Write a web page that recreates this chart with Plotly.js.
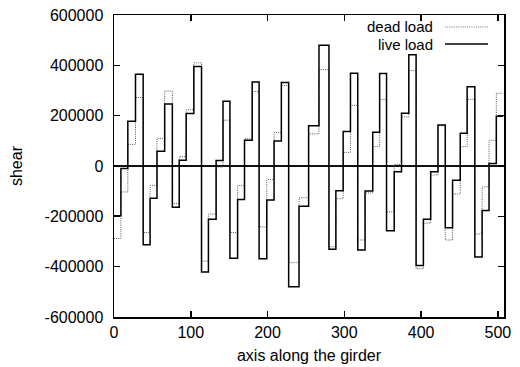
<!DOCTYPE html>
<html>
<head>
<meta charset="utf-8">
<script src="https://cdn.plot.ly/plotly-3.0.1.min.js"></script>
<style>html,body{margin:0;padding:0;background:#fff;}#chart{width:520px;height:367px;}</style>
</head>
<body>
<div id="chart"></div>
<script>
// step boundaries along the girder
const xEdges = [0, 9, 18, 28, 38, 47, 56, 66, 76, 85,
  94, 104, 114, 123, 133, 142, 151, 161, 170, 180,
  189, 199, 208.5, 218, 227.5, 241, 253.5, 267, 280, 289,
  298.5, 308, 317.5, 327, 337, 346, 355, 365, 374.5, 384,
  393.5, 403, 412.5, 422, 431.5, 441, 451, 460, 470, 479.5,
  488.5, 498, 507];

const deadLoad = [-288000, -103000, 86000, 272000, -264000, -77000, 110000, 298000, -149000, 37000,
  224000, 410000, -378000, -191000, -4000, 182000, -264000, -78000, 108000, 296000,
  -242000, -54000, 133000, 320000, -384000, -126000, 128000, 383000, -321000, -130000,
  54000, 241000, -294000, -107000, 77000, 264000, -182000, 6000, 195000, 379000,
  -408000, -227000, -36000, 160000, -294000, -111000, 77000, 265000, -270000, -83000,
  102000, 289000];

const liveLoad = [-198000, -10000, 178000, 365000, -313000, -128000, 59000, 246000, -164000, 23000,
  209000, 395000, -421000, -212000, 22000, 257000, -367000, -133000, 102000, 334000,
  -369000, -135000, 99000, 332000, -480000, -160000, 160000, 480000, -331000, -98000,
  137000, 369000, -334000, -99000, 134000, 368000, -257000, -23000, 210000, 442000,
  -395000, -212000, -23000, 163000, -245000, -57000, 130000, 315000, -362000, -177000,
  10000, 198000];

const seriesNames = ["dead load", "live load"];
const yTickVals = [-600000, -400000, -200000, 0, 200000, 400000, 600000];
const yTickText = ["-600000", "-400000", "-200000", "0", "200000", "400000", "600000"];
const xTickVals = [0, 100, 200, 300, 400, 500];
const xTickText = ["0", "100", "200", "300", "400", "500"];

const FONT = "Liberation Sans, Arial, Helvetica, sans-serif";
const ML = 114, MR = 16, MT = 15, MB = 50;
const PW = 520 - ML - MR, PH = 367 - MT - MB;
const px2x = p => (p - ML) / PW;
const px2y = p => (367 - MB - p) / PH;

function stepY(arr) { return arr.concat([arr[arr.length - 1]]); }

const DEAD_DASH = "1px,1.2px";
const traces = [
  {x: xEdges, y: stepY(deadLoad), type: "scatter", mode: "lines", name: seriesNames[0],
   line: {shape: "hv", color: "#555", width: 1, dash: DEAD_DASH}, hoverinfo: "skip"},
  {x: xEdges, y: stepY(liveLoad), type: "scatter", mode: "lines", name: seriesNames[1],
   line: {shape: "hv", color: "#000", width: 1.5}, hoverinfo: "skip"}
];

const legendRows = [{py: 27, dash: DEAD_DASH, color: "#777", width: 1}, {py: 44, dash: "solid", color: "#000", width: 1.5}];
const annotations = legendRows.map((r, i) => ({
  xref: "paper", yref: "paper", x: px2x(434), y: px2y(r.py), xanchor: "right", yanchor: "middle",
  text: seriesNames[i], showarrow: false, borderpad: 0,
  font: {family: FONT, size: 15, color: "#000"}
}));
const shapes = legendRows.map(r => ({
  type: "line", xref: "paper", yref: "paper", x0: px2x(445), x1: px2x(488), y0: px2y(r.py), y1: px2y(r.py),
  line: {color: r.color, width: r.width, dash: r.dash}
}));

const axisCommon = {
  showgrid: false, showline: true, linecolor: "#000", linewidth: 1.5, mirror: "ticks",
  ticks: "inside", ticklen: 6, tickwidth: 1.5, tickcolor: "#000",
  tickfont: {family: FONT, size: 16, color: "#000"}, automargin: false, fixedrange: true
};

const layout = {
  width: 520, height: 367,
  margin: {l: ML, r: MR, t: MT, b: MB},
  paper_bgcolor: "#fff", plot_bgcolor: "#fff",
  showlegend: false,
  font: {family: FONT, size: 16, color: "#000"},
  xaxis: Object.assign({}, axisCommon, {
    range: [0, 508], tickvals: xTickVals, ticktext: xTickText, zeroline: false,
    title: {text: "axis along the girder", font: {family: FONT, size: 16, color: "#000"}, standoff: 10}
  }),
  yaxis: Object.assign({}, axisCommon, {
    range: [-600000, 600000], tickvals: yTickVals, ticktext: yTickText,
    zeroline: true, zerolinecolor: "#111", zerolinewidth: 2,
    ticklabelstandoff: 6,
    title: {text: "shear", font: {family: FONT, size: 16, color: "#000"}, standoff: 18}
  }),
  annotations: annotations,
  shapes: shapes
};

Plotly.newPlot("chart", traces, layout, {staticPlot: true, displayModeBar: false});
</script>
</body>
</html>
